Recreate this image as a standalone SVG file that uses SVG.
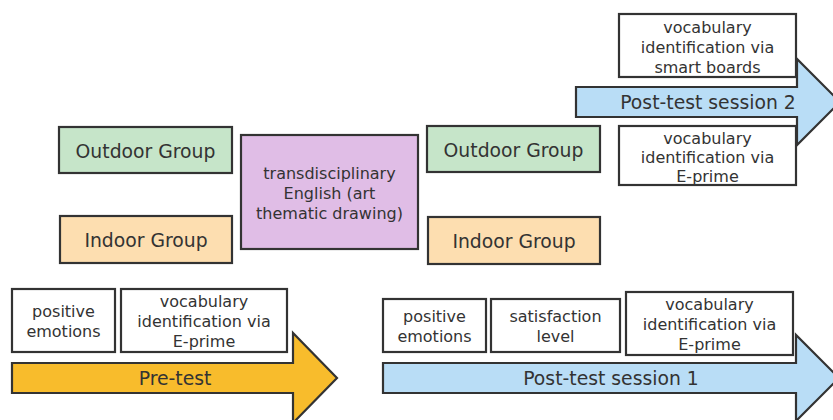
<svg xmlns="http://www.w3.org/2000/svg" width="833" height="420" viewBox="0 0 833 420">
<style>
.b{stroke:#333;stroke-width:2.2;}
.w{fill:#fff;}
text{font-family:"DejaVu Sans","Open Sans",sans-serif;fill:#333;text-anchor:middle;dominant-baseline:central;}
.s{font-size:16px;}
.l{font-size:18.8px;}
</style>
<rect width="833" height="420" fill="#fff"/>
<g id="connectors">
<path id="arrow-pretest" class="b" fill="#f8bc2c" d="M12,363 H293 V333 L337,378 L293,423 V393 H12 Z"/>
<path id="arrow-post1" class="b" fill="#b9ddf6" d="M383,363 H796 V335 L839,378 L796,421 V393 H383 Z"/>
<path id="arrow-post2" class="b" fill="#b9ddf6" d="M576,87 H797 V59 L840,102 L797,145 V117 H576 Z"/>
<text class="l" x="175" y="378">Pre-test</text>
<text class="l" x="611" y="378">Post-test session 1</text>
<text class="l" x="708" y="102">Post-test session 2</text>
</g>
<g id="outdoor1"><rect class="b" fill="#c6e5c9" x="59" y="127" width="173" height="46"/><text class="l" x="145.5" y="151.5">Outdoor Group</text></g>
<g id="indoor1"><rect class="b" fill="#fddeb0" x="60" y="216" width="172" height="47"/><text class="l" x="146" y="240.5">Indoor Group</text></g>
<g id="trans"><rect class="b" fill="#e0bde6" x="241" y="135" width="177" height="114"/>
<text class="s" x="329.5" y="173">transdisciplinary</text><text class="s" x="329.5" y="193">English (art</text><text class="s" x="329.5" y="213">thematic drawing)</text></g>
<g id="outdoor2"><rect class="b" fill="#c6e5c9" x="427" y="126" width="173" height="46"/><text class="l" x="513.5" y="150.5">Outdoor Group</text></g>
<g id="indoor2"><rect class="b" fill="#fddeb0" x="428" y="217" width="172" height="47"/><text class="l" x="514" y="241.5">Indoor Group</text></g>
<g id="p2-smart"><rect class="b w" x="619" y="14" width="177" height="63"/>
<text class="s" x="707.5" y="27">vocabulary</text><text class="s" x="707.5" y="47">identification via</text><text class="s" x="707.5" y="67">smart boards</text></g>
<g id="p2-eprime"><rect class="b w" x="619" y="126" width="177" height="59"/>
<text class="s" x="707.5" y="138">vocabulary</text><text class="s" x="707.5" y="157.5">identification via</text><text class="s" x="707.5" y="176.5">E-prime</text></g>
<g id="pre-pos"><rect class="b w" x="12" y="289" width="103" height="63"/>
<text class="s" x="63.5" y="311">positive</text><text class="s" x="63.5" y="331">emotions</text></g>
<g id="pre-vocab"><rect class="b w" x="121" y="289" width="166" height="63"/>
<text class="s" x="204" y="301">vocabulary</text><text class="s" x="204" y="321">identification via</text><text class="s" x="204" y="341">E-prime</text></g>
<g id="p1-pos"><rect class="b w" x="383" y="299" width="103" height="53"/>
<text class="s" x="434.5" y="316">positive</text><text class="s" x="434.5" y="336">emotions</text></g>
<g id="p1-sat"><rect class="b w" x="491" y="299" width="129" height="53"/>
<text class="s" x="555.5" y="316">satisfaction</text><text class="s" x="555.5" y="336">level</text></g>
<g id="p1-vocab"><rect class="b w" x="626" y="292" width="167" height="63"/>
<text class="s" x="709.5" y="304">vocabulary</text><text class="s" x="709.5" y="324">identification via</text><text class="s" x="709.5" y="344">E-prime</text></g>
</svg>
